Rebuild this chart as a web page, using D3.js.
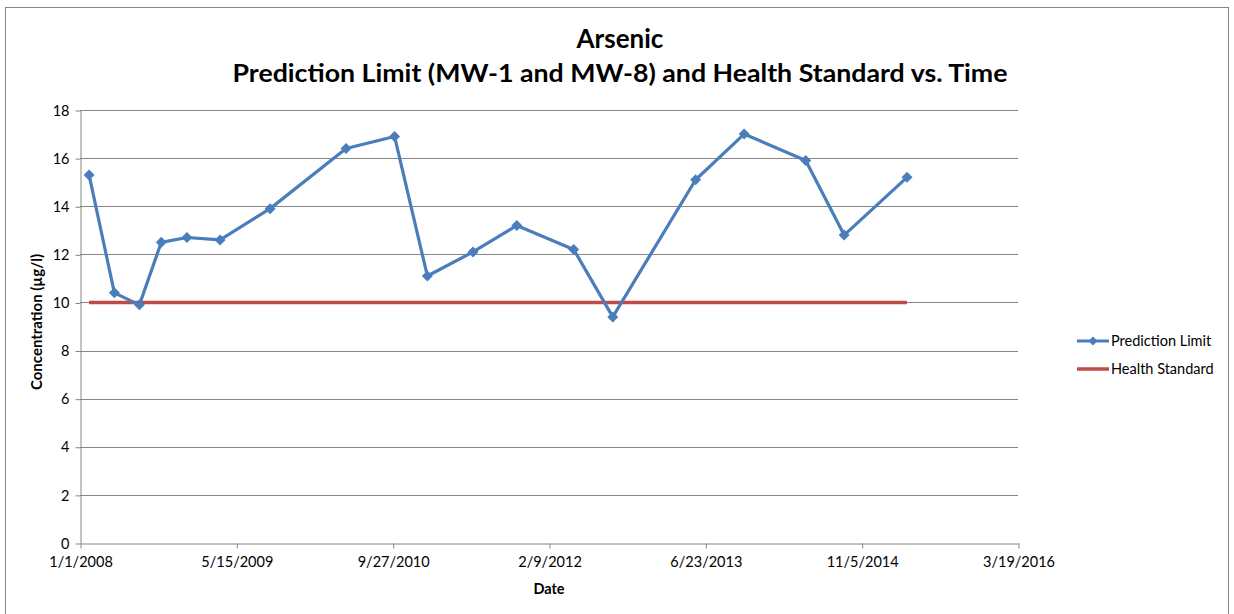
<!DOCTYPE html>
<html>
<head>
<meta charset="utf-8">
<script src="https://cdn.jsdelivr.net/npm/d3@7"></script>
<style>
  html, body { margin: 0; padding: 0; background: #fff; }
  svg { display: block; font-family: Lato, "Open Sans", "Liberation Sans", sans-serif; }
</style>
</head>
<body>
<svg id="chart" width="1234" height="614"></svg>
<script>
// ---- data ----
const dates = ["2008-01-30","2008-04-20","2008-07-09","2008-09-17","2008-12-08","2009-03-24",
  "2009-08-31","2010-05-01","2010-10-03","2011-01-16","2011-06-11","2011-10-29",
  "2012-04-28","2012-08-31","2013-05-23","2013-10-25","2014-05-10","2014-09-10","2015-03-30"];
const predictionLimit = [15.3,10.4,9.9,12.5,12.7,12.6,13.9,16.4,16.9,11.1,12.1,13.2,12.2,9.4,15.1,17.0,15.9,12.8,15.2];
const healthStandard  = [10,10,10,10,10,10,10,10,10,10,10,10,10,10,10,10,10,10,10];
const xTickLabels = ["1/1/2008","5/15/2009","9/27/2010","2/9/2012","6/23/2013","11/5/2014","3/19/2016"];
const yTicks = [0,2,4,6,8,10,12,14,16,18];
const seriesNames = ["Prediction Limit","Health Standard"];
const titleLines = ["Arsenic","Prediction Limit (MW-1 and MW-8) and Health Standard vs. Time"];
const xTitle = "Date";
const yTitle = "Concentration (µg/l)";

// ---- layout ----
const svg = d3.select("#chart");
const plot = {left: 80, right: 1018, top: 110, bottom: 543};
const parseISO = d3.utcParse("%Y-%m-%d");
const parseMDY = d3.utcParse("%m/%d/%Y");
const tickDates = xTickLabels.map(parseMDY);
const fmt = d => `${d.getUTCMonth()+1}/${d.getUTCDate()}/${d.getUTCFullYear()}`;

const x = d3.scaleUtc().domain([tickDates[0], tickDates[tickDates.length-1]]).range([plot.left, plot.right]);
const y = d3.scaleLinear().domain([0, 18]).range([plot.bottom, plot.top]);

const gridColor = "#868686";
const blue = "#4A7EBB";
const red = "#BE4B48";
const labelSize = 14.5;

// outer border
svg.append("rect").attr("x", 5.5).attr("y", 7.5).attr("width", 1223).attr("height", 612)
  .attr("fill", "#fff").attr("stroke", "#868686").attr("stroke-width", 1);

// gridlines
svg.append("g").selectAll("line").data(yTicks.filter(t => t > 0)).join("line")
  .attr("x1", plot.left).attr("x2", plot.right)
  .attr("y1", d => Math.round(y(d)) + 0.5).attr("y2", d => Math.round(y(d)) + 0.5)
  .attr("stroke", gridColor).attr("stroke-width", 1);

// y axis
const yAxis = svg.append("g").attr("transform", `translate(${plot.left + 0.5},0.5)`)
  .call(d3.axisLeft(y).tickValues(yTicks).tickSize(5).tickSizeOuter(0).tickPadding(6));
yAxis.select(".domain").attr("stroke", gridColor);
yAxis.selectAll(".tick line").attr("stroke", gridColor);
yAxis.selectAll(".tick text").attr("font-size", labelSize).attr("fill", "#000")
  .attr("font-family", "Lato, sans-serif");

// x axis
const xAxis = svg.append("g").attr("transform", `translate(0.5,${plot.bottom + 0.5})`)
  .call(d3.axisBottom(x).tickValues(tickDates).tickFormat(fmt).tickSize(5).tickSizeOuter(0).tickPadding(8));
xAxis.select(".domain").attr("stroke", gridColor);
xAxis.selectAll(".tick line").attr("stroke", gridColor);
xAxis.selectAll(".tick text").attr("font-size", labelSize).attr("fill", "#000")
  .attr("font-family", "Lato, sans-serif");

// health standard line
const hsData = dates.map((d, i) => ({date: parseISO(d), v: healthStandard[i]}));
const line = d3.line().x(d => x(d.date)).y(d => y(d.v));
svg.append("path").datum(hsData).attr("d", line)
  .attr("fill", "none").attr("stroke", red).attr("stroke-width", 3.5);

// prediction limit line
const plData = dates.map((d, i) => ({date: parseISO(d), v: predictionLimit[i]}));
svg.append("path").datum(plData).attr("d", line)
  .attr("fill", "none").attr("stroke", blue).attr("stroke-width", 3.2).attr("stroke-linejoin", "round");

const diamond = "M0,-5.5L5.5,0L0,5.5L-5.5,0Z";
svg.append("g").selectAll("path").data(plData).join("path")
  .attr("d", diamond)
  .attr("transform", d => `translate(${x(d.date)},${y(d.v)})`)
  .attr("fill", blue);

// titles
const title = svg.append("g").attr("font-weight", "bold").attr("text-anchor", "middle").attr("fill", "#000");
title.append("text").attr("x", 620).attr("y", 48).attr("font-size", 26).text(titleLines[0]);
title.append("text").attr("x", 620).attr("y", 82).attr("font-size", 25.5)
  .attr("textLength", 775).attr("lengthAdjust", "spacingAndGlyphs").text(titleLines[1]);

svg.append("text").attr("x", 549).attr("y", 594).attr("text-anchor", "middle")
  .attr("font-size", labelSize).attr("font-weight", "bold").text(xTitle);

svg.append("text").attr("transform", "translate(42,322) rotate(-90)").attr("text-anchor", "middle")
  .attr("font-size", 15).attr("font-weight", "bold").text(yTitle);

// legend
const legend = svg.append("g").attr("transform", "translate(1077,341)");
const items = legend.selectAll("g").data(seriesNames).join("g")
  .attr("transform", (d, i) => `translate(0,${i * 28})`);
items.append("line").attr("x1", 0).attr("x2", 32).attr("y1", 0).attr("y2", 0)
  .attr("stroke", (d, i) => i === 0 ? blue : red).attr("stroke-width", (d, i) => i === 0 ? 3 : 3.5);
items.filter((d, i) => i === 0).append("path").attr("d", "M0,-4.5L4.5,0L0,4.5L-4.5,0Z")
  .attr("transform", "translate(16,0)").attr("fill", blue);
items.append("text").attr("x", 34).attr("y", 5).attr("font-size", labelSize).text(d => d);
</script>
</body>
</html>
